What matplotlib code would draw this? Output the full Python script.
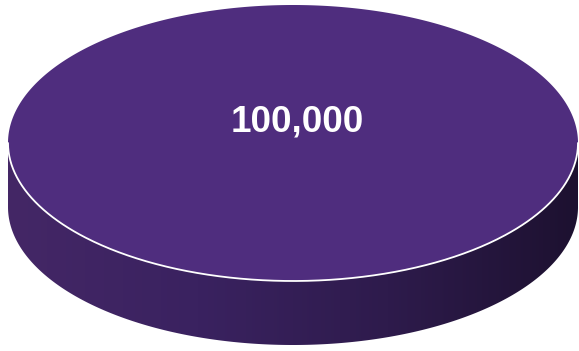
import numpy as np
import matplotlib.pyplot as plt
from matplotlib.patches import Polygon
from matplotlib.colors import LinearSegmentedColormap

# Pie data
labels = ["Total"]
values = [100000]
top_colors = ["#4F2D7E"]

plt.rcParams['font.family'] = ['Liberation Sans', 'DejaVu Sans']

fig = plt.figure(figsize=(5.79, 3.51), dpi=100)
ax = fig.add_axes([0, 0, 1, 1])
ax.set_xlim(0, 579)
ax.set_ylim(351, 0)
ax.axis('off')

# Projected disc geometry (pixel space)
cx, cy, a, b, depth = 293, 143, 285, 138, 64

side_cmap = LinearSegmentedColormap.from_list(
    "side", ["#442766", "#3A2260", "#2E1B4C", "#1D1130"])

total = float(sum(values))
start = 90.0
for lab, val, col in zip(labels, values, top_colors):
    sweep = 360.0 * val / total
    # top face of the slice
    th = np.radians(np.linspace(start, start - sweep, 721))
    xs = cx + a * np.cos(th)
    ys = cy - b * np.sin(th)
    if sweep < 360:
        xs = np.concatenate([[cx], xs])
        ys = np.concatenate([[cy], ys])

    # visible front wall: part of the slice lying in the lower half (180..360 deg)
    lo = max(180.0, (start - sweep) % 360 if sweep < 360 else 180.0)
    hi = 360.0
    tf = np.radians(np.linspace(lo, hi, 400))
    fx = cx + a * np.cos(tf)
    fy = cy - b * np.sin(tf)
    wall_x = np.concatenate([fx, fx[::-1]])
    wall_y = np.concatenate([fy, fy[::-1] + depth])
    wall = Polygon(np.column_stack([wall_x, wall_y]), closed=True,
                   facecolor='none', edgecolor='none')
    ax.add_patch(wall)
    grad = np.linspace(0, 1, 256).reshape(1, -1)
    im = ax.imshow(grad, cmap=side_cmap, aspect='auto',
                   extent=[fx.min(), fx.max(), fy.max() + depth, fy.min()],
                   interpolation='bilinear', zorder=1)
    im.set_clip_path(wall)

    top = Polygon(np.column_stack([xs, ys]), closed=True,
                  facecolor=col, edgecolor='none', zorder=2)
    ax.add_patch(top)

    # white rim along the front edge of the top face
    ax.plot(fx, fy, color='white', lw=1.3, zorder=3, solid_capstyle='round')

    ax.text(cx + 4, cy - 21, f"{val:,}", color='white', fontsize=26.5,
            fontweight='bold', ha='center', va='center', zorder=4)

fig.savefig("out.png", dpi=100)
